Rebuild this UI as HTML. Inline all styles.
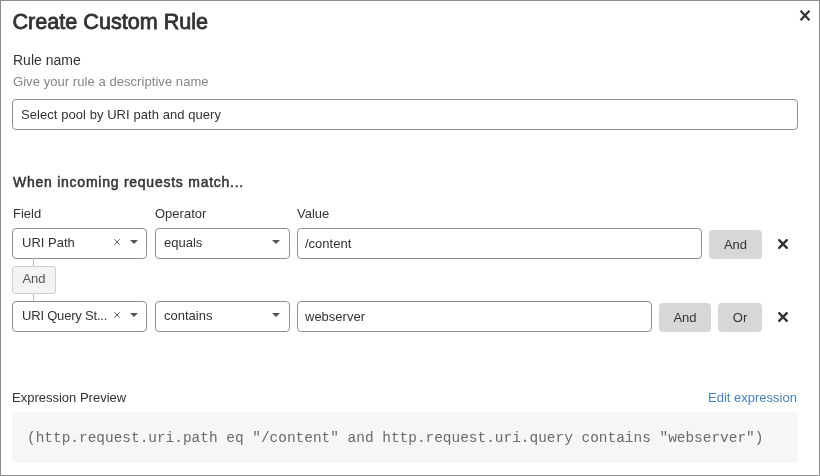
<!DOCTYPE html>
<html><head><meta charset="utf-8">
<style>
*{box-sizing:border-box;margin:0;padding:0}
html,body{width:820px;height:476px;overflow:hidden;background:#fff}
body{font-family:"Liberation Sans",sans-serif;color:#333;position:relative;will-change:transform}
.frame{position:absolute;left:0;top:0;width:820px;height:476px;border:1px solid #8c8c8c}
.abs{position:absolute;white-space:nowrap}
.title{left:12.5px;top:8.5px;font-size:21.6px;letter-spacing:0px;font-weight:normal;-webkit-text-stroke:0.8px #333;color:#333;line-height:26px}
.lbl{font-size:14px;line-height:16px;color:#333}
.hint{font-size:13px;line-height:16px;color:#858585;letter-spacing:0.06px}
.box{position:absolute;border:1px solid #909090;border-radius:4px;background:#fff}
.txt{font-size:13px;color:#333;line-height:16px}
.btn{position:absolute;background:#d6d7d9;border-radius:4px;font-size:13px;color:#333;text-align:center}
.x{position:absolute}
.caret{position:absolute;width:0;height:0;border-left:4.5px solid transparent;border-right:4.5px solid transparent;border-top:4.5px solid #555}
.clr{position:absolute;font-size:13px;color:#777}
</style></head><body>
<div class="frame"></div>

<div class="abs title">Create Custom Rule</div>
<svg class="x" style="left:799px;top:8.9px" width="12" height="13" viewBox="0 0 12 13"><path d="M1.6 1.8L10.4 11.2M10.4 1.8L1.6 11.2" stroke="#333" stroke-width="2.3"/></svg>

<div class="abs lbl" style="left:13px;top:52px">Rule name</div>
<div class="abs hint" style="left:13px;top:74px">Give your rule a descriptive name</div>
<div class="box" style="left:12px;top:99px;width:786px;height:31px"></div>
<div class="abs txt" style="left:21px;top:107px;letter-spacing:0.06px">Select pool by URI path and query</div>

<div class="abs lbl" style="left:13px;top:174px;font-size:14px;-webkit-text-stroke:0.5px #333;letter-spacing:0.75px">When incoming requests match...</div>

<div class="abs txt" style="left:13px;top:206px">Field</div>
<div class="abs txt" style="left:155px;top:206px">Operator</div>
<div class="abs txt" style="left:297px;top:206px">Value</div>

<!-- row 1 -->
<div class="box" style="left:12px;top:228px;width:135px;height:31px"></div>
<div class="abs txt" style="left:22px;top:235px">URI Path</div>
<svg class="x" style="left:113px;top:238px" width="8" height="8" viewBox="0 0 8 8"><path d="M1.2 1.2L6.8 6.8M6.8 1.2L1.2 6.8" stroke="#6a6a6a" stroke-width="1"/></svg>
<div class="caret" style="left:130px;top:240px"></div>

<div class="box" style="left:155px;top:228px;width:135px;height:31px"></div>
<div class="abs txt" style="left:164px;top:235px">equals</div>
<div class="caret" style="left:272px;top:240px"></div>

<div class="box" style="left:297px;top:228px;width:405px;height:31px"></div>
<div class="abs txt" style="left:305px;top:236px">/content</div>

<div class="btn" style="left:709px;top:230px;width:53px;height:29px;line-height:29px">And</div>
<svg class="x" style="left:777px;top:238px" width="12" height="12" viewBox="0 0 12 12"><path d="M2.2 2.2L9.8 9.8M9.8 2.2L2.2 9.8" stroke="#333" stroke-width="2.4" stroke-linecap="round"/></svg>

<!-- connector -->
<div style="position:absolute;left:33px;top:258px;width:1px;height:44px;background:#bbb"></div>
<div style="position:absolute;left:12px;top:266px;width:44px;height:28px;background:#f3f3f3;border:1px solid #cfcfcf;border-radius:3px;font-size:13px;color:#555;text-align:center;line-height:24px">And</div>

<!-- row 2 -->
<div class="box" style="left:12px;top:301px;width:135px;height:31px"></div>
<div class="abs txt" style="left:22px;top:308px;letter-spacing:-0.2px">URI Query St...</div>
<svg class="x" style="left:113px;top:311px" width="8" height="8" viewBox="0 0 8 8"><path d="M1.2 1.2L6.8 6.8M6.8 1.2L1.2 6.8" stroke="#6a6a6a" stroke-width="1"/></svg>
<div class="caret" style="left:130px;top:313px"></div>

<div class="box" style="left:155px;top:301px;width:135px;height:31px"></div>
<div class="abs txt" style="left:164px;top:308px">contains</div>
<div class="caret" style="left:272px;top:313px"></div>

<div class="box" style="left:297px;top:301px;width:355px;height:31px"></div>
<div class="abs txt" style="left:305px;top:309px">webserver</div>

<div class="btn" style="left:659px;top:303px;width:52px;height:29px;line-height:29px">And</div>
<div class="btn" style="left:718px;top:303px;width:44px;height:29px;line-height:29px">Or</div>
<svg class="x" style="left:777px;top:311px" width="12" height="12" viewBox="0 0 12 12"><path d="M2.2 2.2L9.8 9.8M9.8 2.2L2.2 9.8" stroke="#333" stroke-width="2.4" stroke-linecap="round"/></svg>

<!-- expression preview -->
<div class="abs txt" style="left:12px;top:390px">Expression Preview</div>
<div class="abs txt" style="left:708px;top:390px;color:#4a82b0">Edit expression</div>
<div style="position:absolute;left:12px;top:412px;width:786px;height:51px;background:#f6f6f6;border-radius:4px"></div>
<div class="abs" style="left:27px;top:429px;font-family:'Liberation Mono',monospace;font-size:14.45px;color:#6a6a6a;line-height:18px">(http.request.uri.path eq "/content" and http.request.uri.query contains "webserver")</div>
</body></html>
